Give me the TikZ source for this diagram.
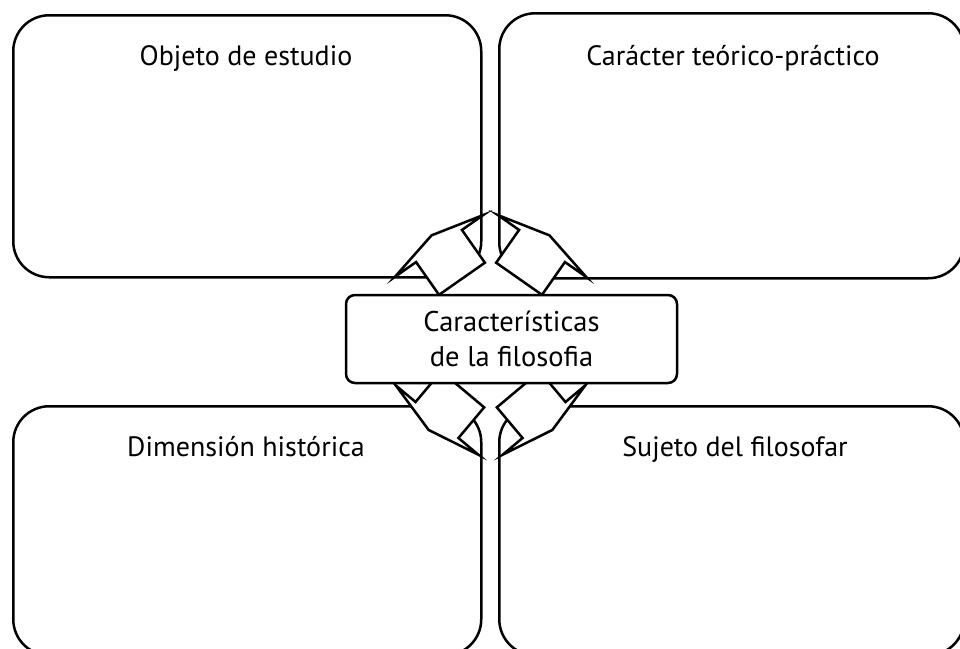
\documentclass[tikz,border=0pt]{standalone}
\usepackage{fontspec}
\setmainfont{PT Sans}
\newcommand{\fatarrow}[3]{%
  \begin{scope}[shift={(#1,#2)},rotate=#3]
    \draw[blockarrow] (-40,-28) -- (0,-28) -- (0,-54) -- (13,0) -- (0,54) -- (0,28) -- (-40,28) -- cycle;
  \end{scope}}
\begin{document}
\begin{tikzpicture}[x=1pt,y=-1pt,
  box/.style={draw, line width=2.5pt, rounded corners=36pt, fill=white, anchor=north west},
  cbox/.style={draw, line width=2.5pt, rounded corners=9pt, fill=white, align=center,
    font=\fontsize{28.5}{35}\selectfont, minimum width=331pt, minimum height=88pt, inner sep=0pt},
  ttl/.style={font=\fontsize{28}{32}\selectfont, anchor=base, inner sep=0pt},
  blockarrow/.style={draw, line width=2.5pt, fill=white, line join=miter}]
\useasboundingbox (0,0) rectangle (960,648);
\clip (0,0) rectangle (960,648);
% four boxes
\node[box, minimum width=468pt, minimum height=262pt] (tl) at (12,14) {};
\node[box, minimum width=465pt, minimum height=265pt] (tr) at (498,12) {};
\node[box, minimum width=468pt, minimum height=249pt] (bl) at (12,405) {};
\node[box, minimum width=465pt, minimum height=249pt] (br) at (498,405) {};
% titles
\node[ttl] (tlt) at (246,65) {Objeto de estudio};
\node[ttl] (trt) at (733,65) {Carácter teórico-práctico};
\node[ttl] (blt) at (246,456) {Dimensión histórica};
\node[ttl] (brt) at (735,456) {Sujeto del filosofar};
% block arrows
\fatarrow{439}{246}{125}
\fatarrow{542}{246}{55}
\fatarrow{437}{420}{230}
\fatarrow{544}{420}{310}
% central box
\node[cbox] (c) at (511.5,339) {Características\\de la filosofia};
\end{tikzpicture}
\end{document}
